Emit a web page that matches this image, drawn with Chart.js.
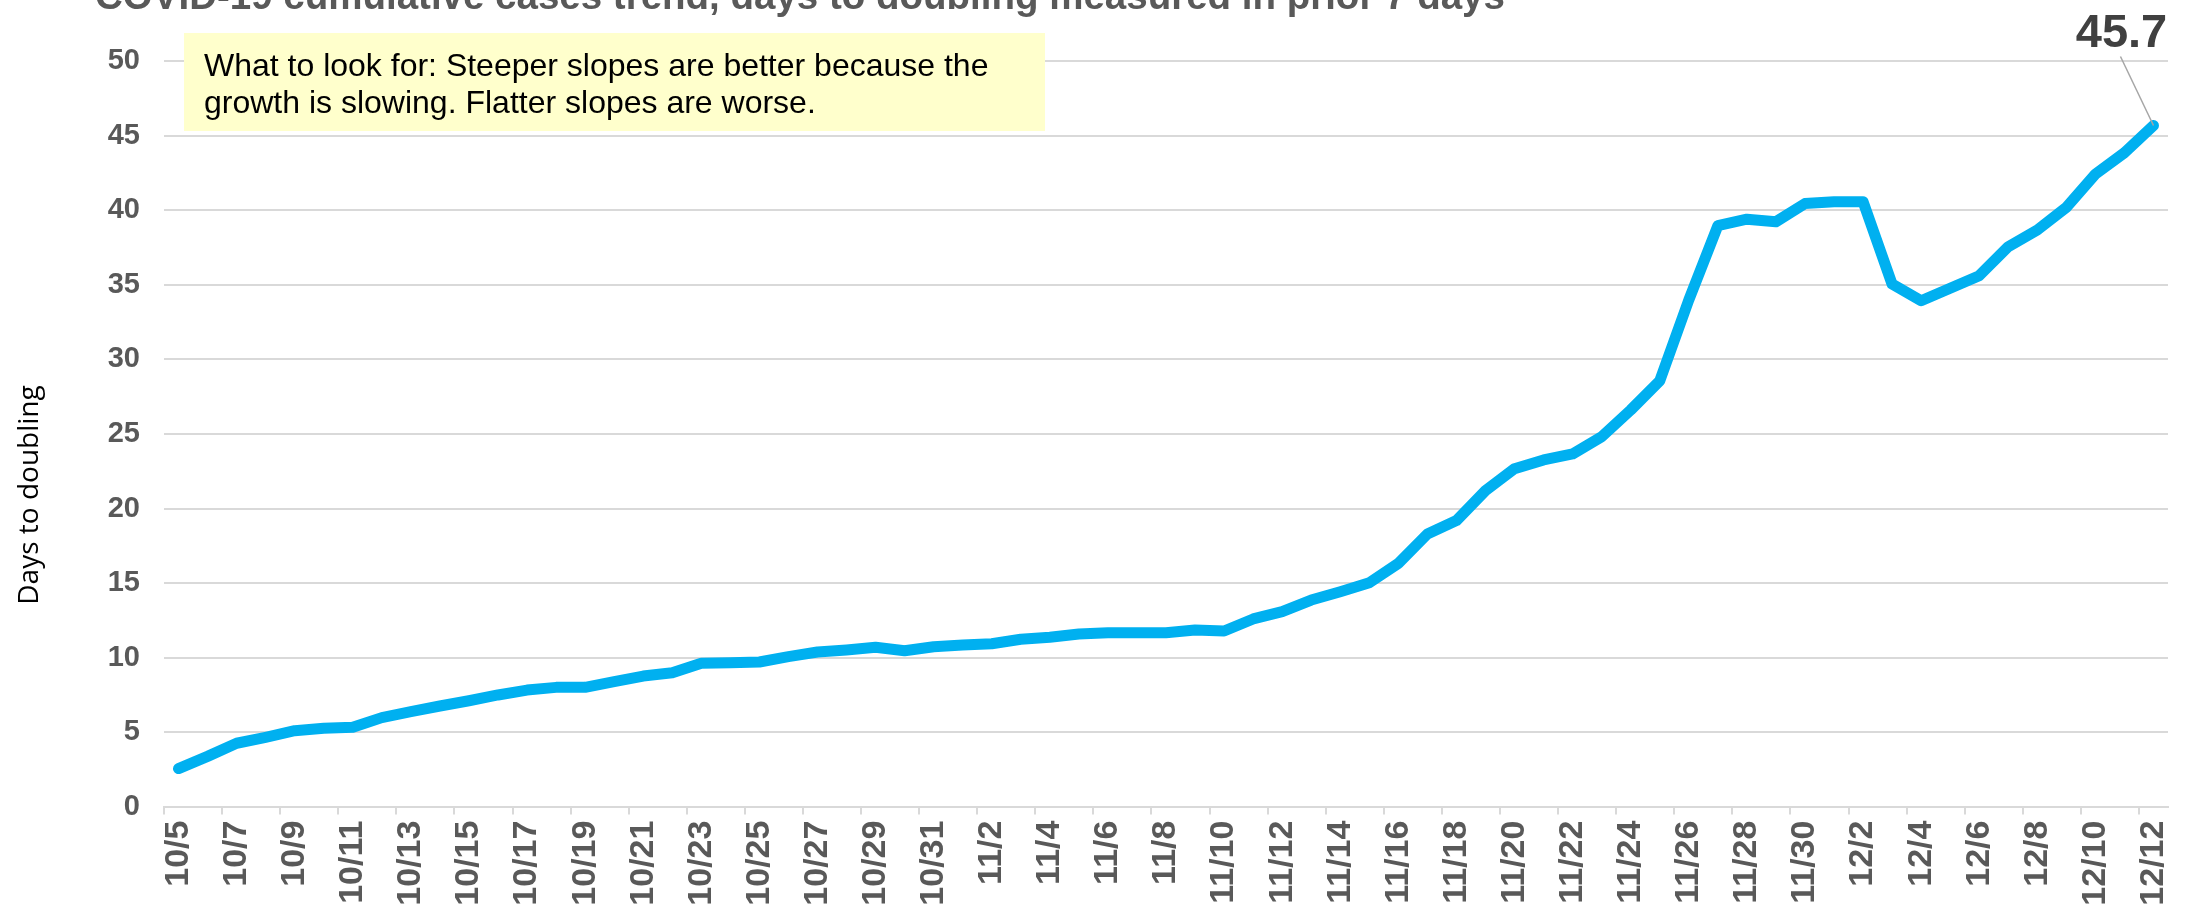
<!DOCTYPE html>
<html>
<head>
<meta charset="utf-8">
<title>Days to doubling</title>
<script src="https://cdn.jsdelivr.net/npm/chart.js"></script>
<style>
  html, body { margin: 0; padding: 0; background: #fff; overflow: hidden; }
  canvas { display: block; }
</style>
</head>
<body>
<canvas id="chart" width="2188" height="905"></canvas>
<script>
const chartTitle = 'COVID-19 cumulative cases trend, days to doubling measured in prior 7 days';
const yAxisTitle = 'Days to doubling';
const noteLines = [
  'What to look for: Steeper slopes are better because the',
  'growth is slowing. Flatter slopes are worse.',
];

// one entry per day, 10/5 .. 12/12
const dates = [
  '10/5', '10/6', '10/7', '10/8', '10/9', '10/10', '10/11', '10/12', '10/13', '10/14',
  '10/15', '10/16', '10/17', '10/18', '10/19', '10/20', '10/21', '10/22', '10/23', '10/24',
  '10/25', '10/26', '10/27', '10/28', '10/29', '10/30', '10/31',
  '11/1', '11/2', '11/3', '11/4', '11/5', '11/6', '11/7', '11/8', '11/9', '11/10',
  '11/11', '11/12', '11/13', '11/14', '11/15', '11/16', '11/17', '11/18', '11/19', '11/20',
  '11/21', '11/22', '11/23', '11/24', '11/25', '11/26', '11/27', '11/28', '11/29', '11/30',
  '12/1', '12/2', '12/3', '12/4', '12/5', '12/6', '12/7', '12/8', '12/9', '12/10',
  '12/11', '12/12',
];

const daysToDoubling = [
  // October
  2.55, 3.37, 4.25, 4.65, 5.09, 5.25, 5.32, 5.97, 6.37, 6.75,
  7.1, 7.49, 7.82, 8.0, 8.0, 8.38, 8.76, 8.98, 9.62, 9.66,
  9.7, 10.06, 10.37, 10.51, 10.69, 10.46, 10.73,
  // November
  10.84, 10.93, 11.23, 11.36, 11.58, 11.67, 11.67, 11.67, 11.85, 11.78,
  12.59, 13.08, 13.86, 14.42, 15.02, 16.32, 18.29, 19.19, 21.2, 22.67,
  23.26, 23.66, 24.82, 26.61, 28.56, 33.99, 38.98, 39.41, 39.24, 40.46,
  // December
  40.59, 40.59, 35.06, 33.94, 34.78, 35.62, 37.57, 38.69, 40.21, 42.44,
  43.87, 45.7,
];

const yMin = 0;
const yMax = 50;
const yStep = 5;

const lineColor = '#00b0f0';
const gridColor = '#d9d9d9';
const tickColor = '#595959';
const sansFont = '"Liberation Sans", Arial, sans-serif';

Chart.defaults.font.family = sansFont;

// title, note box, y axis title and the end value label
const overlay = {
  id: 'overlay',
  afterDraw(chart) {
    const { ctx, scales: { x, y } } = chart;
    ctx.save();

    ctx.font = `bold 38.5px ${sansFont}`;
    ctx.fillStyle = tickColor;
    ctx.textAlign = 'left';
    ctx.textBaseline = 'alphabetic';
    ctx.fillText(chartTitle, 95, 9);

    ctx.fillStyle = '#ffffcc';
    ctx.fillRect(184, 33, 861, 98);
    ctx.fillStyle = '#000';
    ctx.font = `32px ${sansFont}`;
    noteLines.forEach((line, i) => ctx.fillText(line, 204, 76 + i * 37));

    const last = daysToDoubling.length - 1;
    const px = x.getPixelForValue(last);
    const py = y.getPixelForValue(daysToDoubling[last]);
    ctx.strokeStyle = '#a6a6a6';
    ctx.lineWidth = 1.5;
    ctx.beginPath();
    ctx.moveTo(px, py);
    ctx.lineTo(px - 33, py - 69);
    ctx.stroke();
    ctx.fillStyle = '#404040';
    ctx.font = `bold 47px ${sansFont}`;
    ctx.textAlign = 'center';
    ctx.fillText(daysToDoubling[last].toFixed(1), px - 32, py - 78);

    ctx.translate(30, 495);
    ctx.rotate(-Math.PI / 2);
    ctx.fillStyle = '#000';
    ctx.font = '28px "Open Sans", sans-serif';
    ctx.textAlign = 'center';
    ctx.textBaseline = 'middle';
    ctx.fillText(yAxisTitle, 0, 0);

    ctx.restore();
  },
};

new Chart(document.getElementById('chart'), {
  type: 'line',
  data: {
    labels: dates,
    datasets: [{
      data: daysToDoubling,
      borderColor: lineColor,
      borderWidth: 11,
      borderCapStyle: 'round',
      borderJoinStyle: 'round',
      pointRadius: 0,
      tension: 0,
      fill: false,
    }],
  },
  options: {
    responsive: false,
    devicePixelRatio: 1,
    animation: false,
    layout: { padding: { top: 61.4, right: 20, left: 0, bottom: 0 } },
    plugins: {
      legend: { display: false },
      tooltip: { enabled: false },
      title: { display: false },
    },
    scales: {
      x: {
        offset: true,
        grid: {
          offset: true,
          drawOnChartArea: false,
          drawTicks: true,
          tickLength: 8,
          lineWidth: 2,
          color: (c) => (c.index % 2 === 0 ? gridColor : 'rgba(0,0,0,0)'),
        },
        border: { display: true, color: gridColor, width: 2 },
        ticks: {
          autoSkip: false,
          maxRotation: 90,
          minRotation: 90,
          padding: 6,
          color: tickColor,
          font: { size: 34, weight: 'bold' },
          callback: (val, i) => (i % 2 === 0 ? dates[i] : ''),
        },
        afterFit: (scale) => {
          scale.height = 905 - 806.6;
          scale.paddingLeft = 0;
          scale.paddingRight = 0;
        },
      },
      y: {
        min: yMin,
        max: yMax,
        ticks: {
          stepSize: yStep,
          padding: 24,
          color: tickColor,
          font: { size: 29, weight: 'bold' },
        },
        grid: { color: gridColor, lineWidth: 2, drawTicks: false },
        border: { display: false },
        afterFit: (scale) => { scale.width = 164; },
      },
    },
  },
  plugins: [overlay],
});
</script>
</body>
</html>
